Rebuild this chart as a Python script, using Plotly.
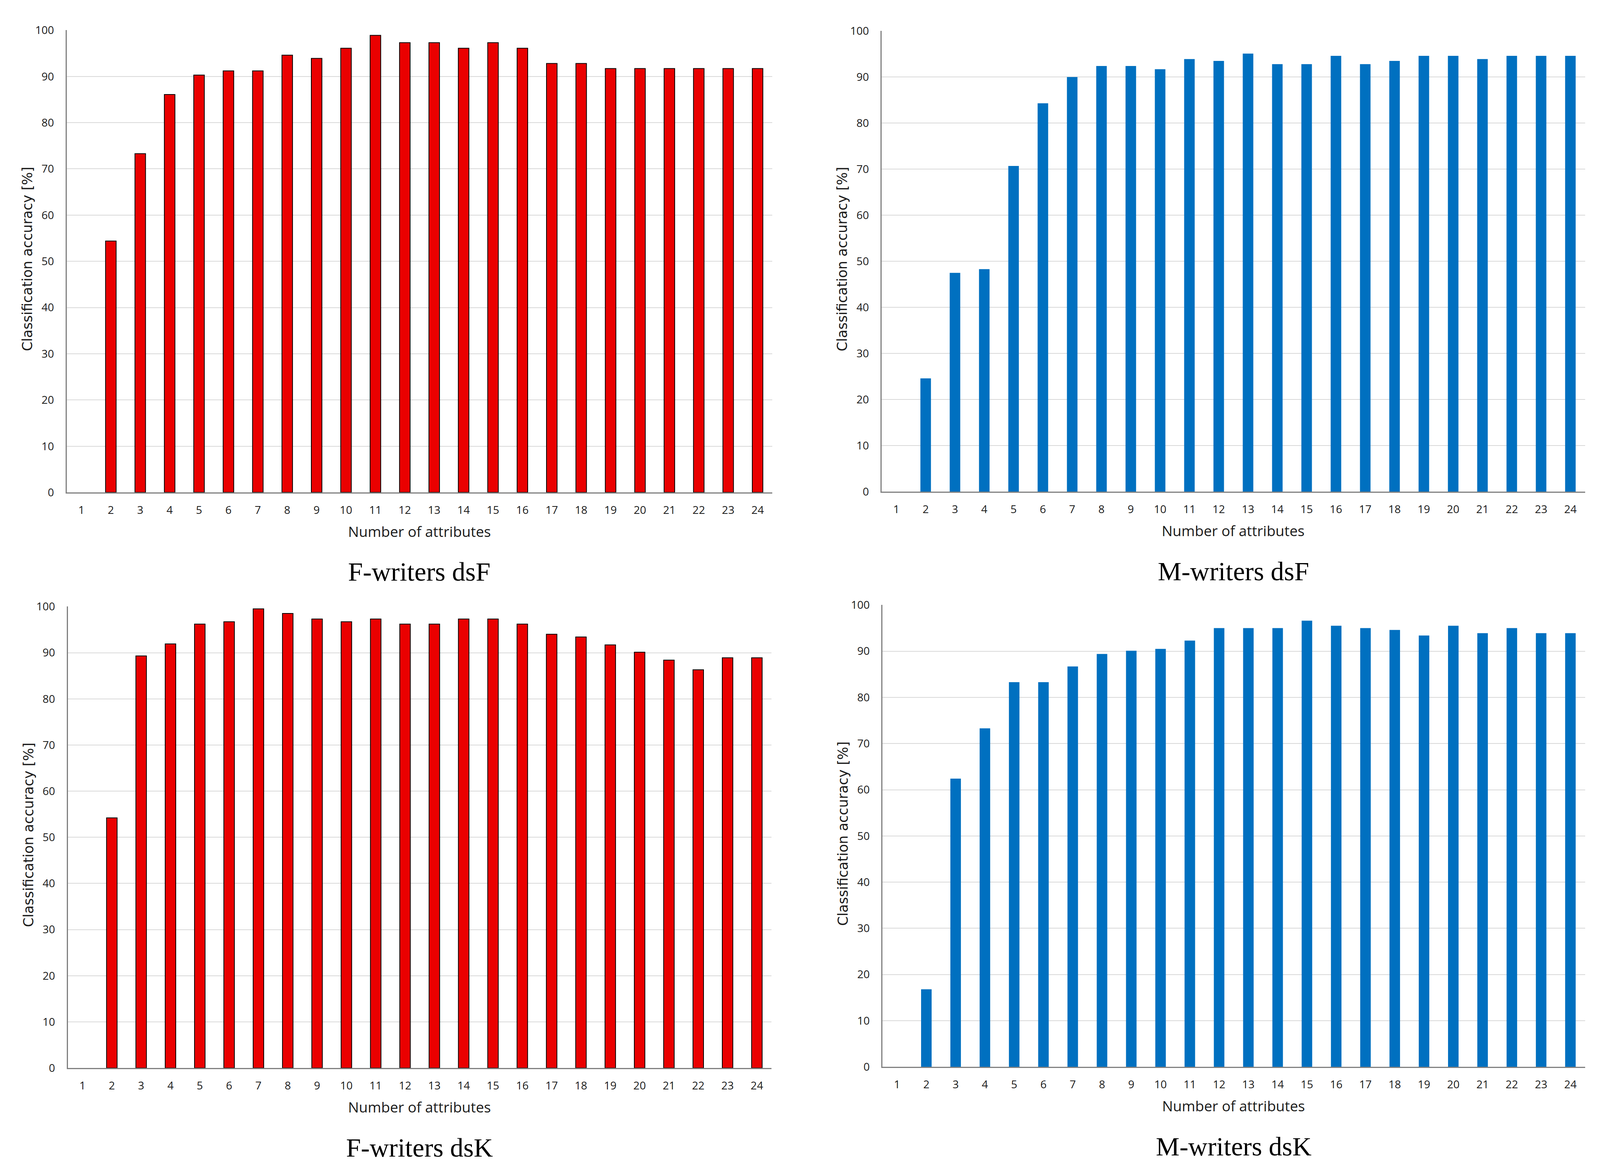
import plotly.graph_objects as go

attributes = [str(i) for i in range(1, 25)]
y_ticks = list(range(0, 101, 10))

f_writers_dsF = [None, 54.4, 73.3, 86.1, 90.3, 91.2, 91.2, 94.6, 93.9, 96.1, 98.9, 97.3,
                 97.3, 96.1, 97.3, 96.1, 92.8, 92.8, 91.7, 91.7, 91.7, 91.7, 91.7, 91.7]
m_writers_dsF = [None, 24.6, 47.5, 48.3, 70.7, 84.3, 90.0, 92.4, 92.4, 91.7, 93.9, 93.5,
                 95.1, 92.8, 92.8, 94.6, 92.8, 93.5, 94.6, 94.6, 93.9, 94.6, 94.6, 94.6]
f_writers_dsK = [None, 54.2, 89.3, 91.9, 96.2, 96.7, 99.5, 98.5, 97.3, 96.7, 97.3, 96.2,
                 96.2, 97.3, 97.3, 96.2, 94.0, 93.4, 91.7, 90.1, 88.4, 86.3, 88.9, 88.9]
m_writers_dsK = [None, 16.8, 62.4, 73.3, 83.3, 83.3, 86.7, 89.4, 90.1, 90.5, 92.3, 95.0,
                 95.0, 95.0, 96.6, 95.5, 95.0, 94.6, 93.4, 95.5, 93.9, 95.0, 93.9, 93.9]

subtitles = ["F-writers dsF", "M-writers dsF", "F-writers dsK", "M-writers dsK"]
x_title = "Number of attributes"
y_title = "Classification accuracy [%]"

RED = "#EA0000"
BLUE = "#0070C0"

# The browser viewport is 4096 px wide (screen cap) with an 8 px body margin,
# so the figure is laid out to fill that page, mapping reference pixels onto it.
REF_W, REF_H = 4386, 3004
VIEW_W, VIEW_H = 4096, 3004
MARGIN = 8
FW, FH = VIEW_W - 2 * MARGIN, VIEW_H - 2 * MARGIN
SX = VIEW_W / REF_W
FS = 0.95  # font scale for horizontal texts


def px(xr):
    return (xr * SX - MARGIN) / FW


def py(yr):
    return 1 - (yr - MARGIN) / FH


# panel boxes in reference pixels: (left, right, top, bottom)
boxes = [
    (183, 2117, 58, 1257),
    (2417, 4345, 60, 1255),
    (186, 2115, 1553, 2750),
    (2419, 4345, 1549, 2747),
]
series = [f_writers_dsF, m_writers_dsF, f_writers_dsK, m_writers_dsK]
colors = [RED, BLUE, RED, BLUE]
outlines = [(2, "#000000"), (0, BLUE), (2, "#000000"), (0, BLUE)]

fig = go.Figure()
layout = dict(
    width=FW, height=FH,
    margin=dict(l=0, r=0, t=0, b=0),
    paper_bgcolor="white", plot_bgcolor="white",
    showlegend=False,
    bargap=0.64,
    annotations=[],
)

TICK_FONT = dict(family="Open Sans", size=round(30 * FS), color="#1a1a1a")
YTICK_FONT = dict(family="Open Sans", size=round(29 * FS), color="#1a1a1a")

for i, ((l, r, t, b), vals, col, (lw, lc), sub) in enumerate(
        zip(boxes, series, colors, outlines, subtitles)):
    n = i + 1
    xa = "x" if n == 1 else f"x{n}"
    ya = "y" if n == 1 else f"y{n}"
    fig.add_trace(go.Bar(
        x=attributes, y=vals, xaxis=xa, yaxis=ya,
        marker=dict(color=col, line=dict(width=lw, color=lc)),
    ))
    layout[f"xaxis{'' if n == 1 else n}"] = dict(
        domain=[px(l), px(r)], anchor=ya, type="category",
        categoryorder="array", categoryarray=attributes,
        range=[-0.5, 23.5],
        showline=True, linecolor="#808080", linewidth=3,
        showgrid=False, ticks="", tickfont=TICK_FONT,
        ticklabelstandoff=18, zeroline=False, fixedrange=True,
    )
    layout[f"yaxis{'' if n == 1 else n}"] = dict(
        domain=[py(b), py(t)], anchor=xa, range=[0, 100],
        tickvals=y_ticks, ticktext=[str(v) for v in y_ticks],
        showline=True, linecolor="#808080", linewidth=3,
        showgrid=True, gridcolor="#D9D9D9", gridwidth=2,
        ticks="", tickfont=YTICK_FONT, ticklabelstandoff=24,
        zeroline=False, fixedrange=True,
    )
    cx = px((l + r) / 2)
    layout["annotations"].append(dict(
        text=x_title, xref="paper", yref="paper", x=cx, y=py(b + 101),
        xanchor="center", yanchor="middle", showarrow=False,
        font=dict(family="Open Sans", size=round(39 * FS), color="#1a1a1a"),
    ))
    layout["annotations"].append(dict(
        text=y_title, xref="paper", yref="paper", x=px(l - 108),
        y=py((t + b) / 2 - 6),
        xanchor="center", yanchor="middle", textangle=-90, showarrow=False,
        font=dict(family="DejaVu Sans", size=35, color="#1a1a1a"),
    ))
    layout["annotations"].append(dict(
        text=sub, xref="paper", yref="paper", x=cx, y=py(b + 206),
        xanchor="center", yanchor="middle", showarrow=False,
        font=dict(family="Liberation Serif", size=68, color="#000000"),
    ))

fig.update_layout(**layout)
fig.write_html("out.html")
